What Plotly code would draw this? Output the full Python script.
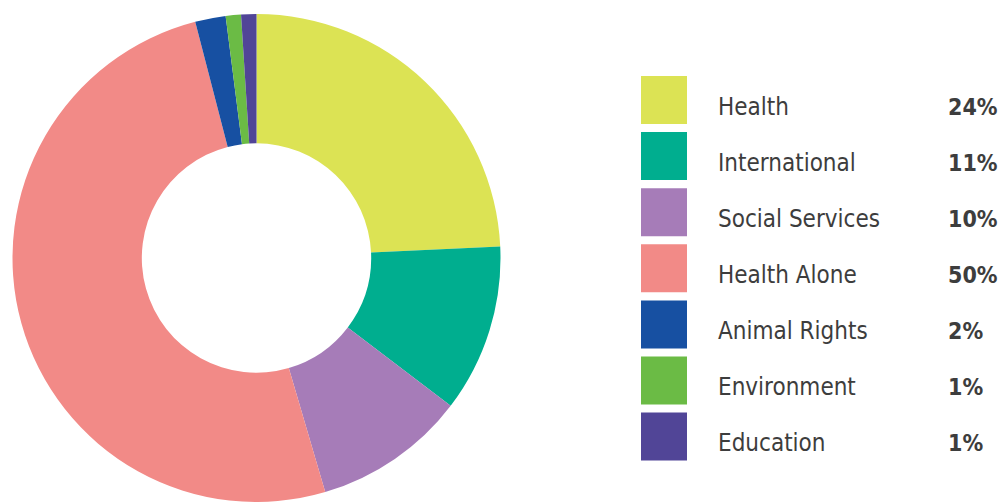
import plotly.graph_objects as go

# Share of giving by cause
categories = ["Health", "International", "Social Services", "Health Alone",
              "Animal Rights", "Environment", "Education"]
shares = [24, 11, 10, 50, 2, 1, 1]
pct_labels = ["24%", "11%", "10%", "50%", "2%", "1%", "1%"]
colors = ["#DCE354", "#00AE8F", "#A67CB8", "#F28A87", "#1750A2", "#6BBB45", "#514597"]

W, H = 998, 502

fig = go.Figure(go.Pie(
    labels=categories,
    values=shares,
    sort=False,
    direction="clockwise",
    rotation=0,
    hole=0.47,
    marker=dict(colors=colors, line=dict(width=0)),
    textinfo="none",
    hoverinfo="label+percent",
    showlegend=False,
    domain=dict(x=[12.5 / W, 500.5 / W], y=[0, (H - 14) / H]),
))

# Hand-built legend: swatch, name, share
text_color = "#3d3d3d"
font_family = "DejaVu Sans Condensed, DejaVu Sans, sans-serif"
row_top, row_step, box_h = 100.0, 56.1, 48
shapes, annotations = [], []
for i, (name, pct, col) in enumerate(zip(categories, pct_labels, colors)):
    cy = row_top + row_step * i
    shapes.append(dict(
        type="rect", xref="paper", yref="paper",
        x0=641 / W, x1=687 / W,
        y0=1 - (cy + box_h / 2) / H, y1=1 - (cy - box_h / 2) / H,
        fillcolor=col, line=dict(width=0), layer="above",
    ))
    ty = 1 - (cy + 6.5) / H
    annotations.append(dict(
        xref="paper", yref="paper", x=716 / W, y=ty,
        xanchor="left", yanchor="middle", showarrow=False, text=name,
        font=dict(family=font_family, size=24, color=text_color),
    ))
    annotations.append(dict(
        xref="paper", yref="paper", x=946 / W, y=ty,
        xanchor="left", yanchor="middle", showarrow=False, text=f"<b>{pct}</b>",
        font=dict(family=font_family, size=23, color=text_color),
    ))

fig.update_layout(
    width=W, height=H,
    margin=dict(l=0, r=0, t=0, b=0),
    paper_bgcolor="white", plot_bgcolor="white",
    shapes=shapes, annotations=annotations,
)

fig.write_html("out.html")
